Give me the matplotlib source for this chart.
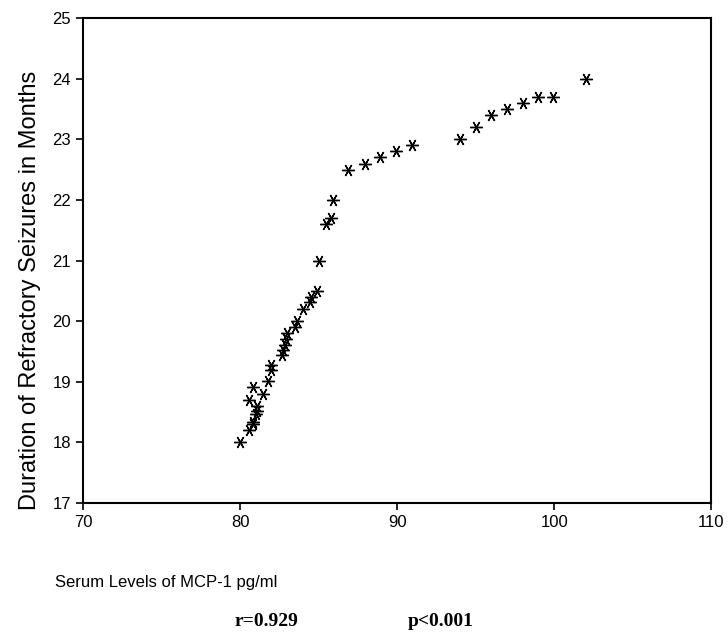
import matplotlib
matplotlib.use("Agg")
import matplotlib.pyplot as plt

# MCP-1 serum level (pg/ml) vs duration of refractory seizures (months)
mcp1 = [80.0, 80.55, 80.85, 80.85, 81.0, 81.1, 81.06, 80.57, 80.85, 81.44,
        81.8, 81.95, 81.95, 82.7, 82.76, 82.87, 82.9, 83.0, 83.52, 83.65,
        84.03, 84.46, 84.5, 84.9, 85.0, 85.5, 85.8, 85.9, 86.9, 87.96,
        88.9, 89.9, 90.96, 94.0, 95.0, 96.0, 97.0, 98.0, 98.98, 99.9,
        102.0]
duration = [18.0, 18.2, 18.3, 18.34, 18.47, 18.52, 18.6, 18.7, 18.92, 18.8,
            19.02, 19.2, 19.28, 19.44, 19.52, 19.6, 19.7, 19.8, 19.9, 20.0,
            20.2, 20.32, 20.4, 20.5, 21.0, 21.6, 21.7, 22.0, 22.5, 22.6,
            22.7, 22.8, 22.9, 23.0, 23.2, 23.4, 23.5, 23.6, 23.7, 23.7,
            24.0]

x_ticks = [70, 80, 90, 100, 110]
y_ticks = [17, 18, 19, 20, 21, 22, 23, 24, 25]

plt.rcParams['font.family'] = ['Liberation Sans', 'DejaVu Sans']

fig = plt.figure(figsize=(7.28, 6.37), dpi=100)
ax = fig.add_axes([0.114, 0.2104, 0.863, 0.7613])

ax.plot(mcp1, duration, linestyle='none', marker=(6, 2, 90), markersize=9,
        markeredgewidth=1.0, color='black')

ax.set_xlim(70, 110)
ax.set_ylim(17, 25)
ax.set_xticks(x_ticks)
ax.set_yticks(y_ticks)
ax.tick_params(direction='out', length=5, width=1.2, labelsize=12, colors='black')
for s in ax.spines.values():
    s.set_linewidth(1.5)

# y label is long in the original, sits a bit below the axes centre
fig.text(30 / 728, 1 - 290 / 637, 'Duration of Refractory Seizures in Months',
         fontsize=17, rotation=90, ha='center', va='center')

fig.text(55 / 728, 1 - 582 / 637, 'Serum Levels of MCP-1 pg/ml', fontsize=12,
         ha='left', va='center')
fig.text(235 / 728, 1 - 622 / 637, 'r=0.929', fontsize=14, fontweight='bold',
         family='Liberation Serif', ha='left', va='center')
fig.text(408 / 728, 1 - 622 / 637, 'p<0.001', fontsize=14, fontweight='bold',
         family='Liberation Serif', ha='left', va='center')

fig.savefig('out.png', dpi=100)
